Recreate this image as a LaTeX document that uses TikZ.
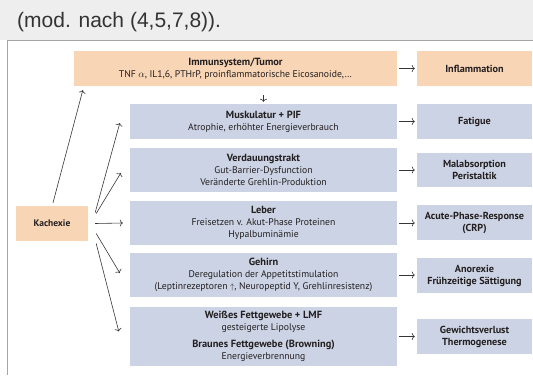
\documentclass[tikz,border=0pt]{standalone}
\usepackage{fontspec}
\setmainfont{PT Sans}
\newfontfamily\arialfont{Liberation Sans}
\usetikzlibrary{arrows.meta,calc}
\definecolor{peach}{RGB}{248,213,181}
\definecolor{bluegray}{RGB}{204,211,228}
\definecolor{txt}{RGB}{35,31,32}
\definecolor{strip}{RGB}{238,238,238}
\definecolor{framec}{RGB}{165,165,165}
\newcommand{\hd}[1]{{\fontsize{10.4}{12}\selectfont\bfseries #1}}
\begin{document}
\begin{tikzpicture}[x=1pt,y=-1pt,
  box/.style={inner sep=0pt, align=center, text=txt, font=\fontsize{9.7}{12}\selectfont},
  pbox/.style={box, fill=peach},
  bbox/.style={box, fill=bluegray},
  rbox/.style={bbox, minimum width=115pt, minimum height=35pt, font=\fontsize{10.2}{12}\selectfont\bfseries},
  lbox/.style={bbox, minimum width=267pt},
  arr/.style={draw=txt!90, line width=0.6pt, -{To[length=3pt,width=7pt]}},
  harr/.style={arr, shorten <=2pt, shorten >=2pt},
]
\useasboundingbox (0,0) rectangle (533,375);
\fill[white] (0,0) rectangle (533,375);
\fill[strip] (0,0) rectangle (533,40);
\draw[framec, line width=1pt] (7,375) -- (7,40) -- (533,40);
\node[anchor=base west, inner sep=0pt, font=\arialfont\fontsize{21}{24}\selectfont, text=black!80] (cap) at (17,27) {(mod. nach (4,5,7,8)).};

% left column
\node[pbox, minimum width=323pt, minimum height=35pt] (imm) at (235.5,68.5)
  {\hd{Immunsystem/Tumor}\\TNF $\alpha$, IL1,6, PTHrP, proinflammatorische Eicosanoide,\ldots};
\node[lbox, minimum height=35pt] (musk) at (263.5,121.5)
  {\hd{Muskulatur + PIF}\\Atrophie, erhöhter Energieverbrauch};
\node[lbox, minimum height=44pt] (verd) at (263.5,170)
  {\hd{Verdauungstrakt}\\Gut-Barrier-Dysfunction\\Veränderte Grehlin-Produktion};
\node[lbox, minimum height=44pt] (leb) at (263.5,223)
  {\hd{Leber}\\Freisetzen v. Akut-Phase Proteinen\\Hypalbuminämie};
\node[lbox, minimum height=44pt] (geh) at (263.5,275)
  {\hd{Gehirn}\\Deregulation der Appetitstimulation\\(Leptinrezeptoren {\footnotesize$\uparrow$}, Neuropeptid Y, Grehlinresistenz)};
\node[lbox, minimum height=59pt] (weis) at (263.5,336.5)
  {\hd{Weißes Fettgewebe + LMF}\\gesteigerte Lipolyse\\[5pt]\hd{Braunes Fettgewebe (Browning)}\\Energieverbrennung};

% right column
\node[rbox, fill=peach] (infl) at (474.5,68.5) {Inflammation};
\node[rbox] (fat) at (474.5,121.5) {Fatigue};
\node[rbox, minimum height=34pt] (mal) at (474.5,170) {Malabsorption\\Peristaltik};
\node[rbox] (acu) at (474.5,222.5) {Acute-Phase-Response\\(CRP)};
\node[rbox] (ano) at (474.5,275.5) {Anorexie\\Frühzeitige Sättigung};
\node[rbox] (gew) at (474.5,336.5) {Gewichtsverlust\\Thermogenese};

% Kachexie
\node[pbox, minimum width=72pt, minimum height=35pt, font=\fontsize{9.5}{12}\selectfont\bfseries] (kach) at (52,223.5) {Kachexie};

% horizontal arrows
\draw[harr] (imm) -- (infl);
\draw[harr] (musk) -- (fat);
\draw[harr] (verd) -- (mal);
\draw[harr] (leb.east) -- (leb.east -| acu.west);
\draw[harr] (geh.east) -- (geh.east -| ano.west);
\draw[harr] (weis) -- (gew);

% down arrow
\draw[arr] ($(imm.south -| musk.north)+(0,9)$) -- ($(musk.north)+(0,-2)$);

% arrows from Kachexie
\draw[arr] ($(kach.north)+(1,-3)$) -- ($(imm.south west)+(9,4)$);
\draw[arr] ($(kach.east)+(7,-11)$) -- ($(musk.west)+(-10,1.5)$);
\draw[arr] ($(kach.east)+(8,-10)$) -- ($(verd.west)+(-9,3)$);
\draw[arr] ($(kach.east)+(7,0)$) -- ($(leb.west)+(-7,0)$);
\draw[arr] ($(kach.east)+(8,10)$) -- ($(geh.west)+(-10,-2)$);
\draw[arr] ($(kach.east)+(8,20)$) -- ($(weis.west)+(-11,-5)$);
\end{tikzpicture}
\end{document}
